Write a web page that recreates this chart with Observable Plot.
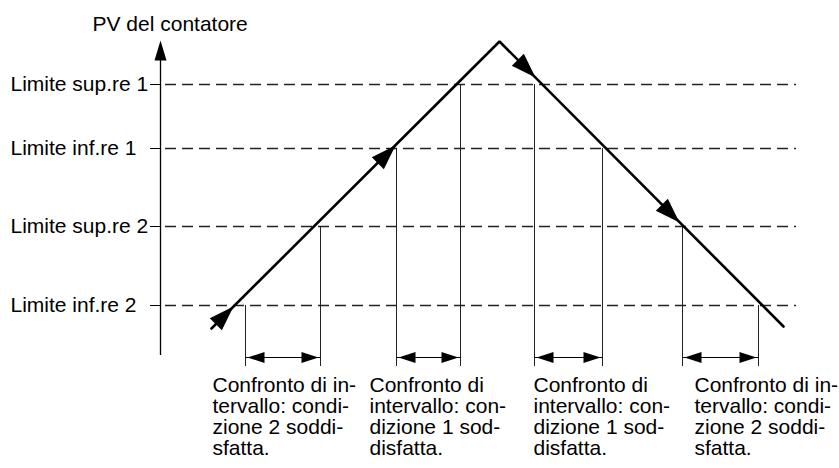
<!DOCTYPE html>
<html>
<head>
<meta charset="utf-8">
<script src="https://cdn.jsdelivr.net/npm/d3@7"></script>
<script src="https://cdn.jsdelivr.net/npm/@observablehq/plot@0.6"></script>
<style>
  html, body { margin: 0; padding: 0; background: white; }
  svg { display: block; }
</style>
</head>
<body>
<div id="chart"></div>
<script>
// ---- data (time units on x, counter PV units on y) ----
const axisTitle = "PV del contatore";
const limitLabels = ["Limite sup.re 1", "Limite inf.re 1", "Limite sup.re 2", "Limite inf.re 2"];
const limitValues = [271, 207, 129, 50];

// the PV ramp: up, peak, down
const pvTime = [51, 339, 623];
const pvValue = [27, 314, 29];

// moments where the PV crosses the limits
const crossTime = [85, 160, 236, 300, 374, 442, 522, 598];
const crossLimit = [50, 129, 207, 271, 271, 207, 129, 50];

// comparison intervals (start, end)
const intervalStart = [85, 236, 374, 522];
const intervalEnd = [160, 300, 442, 598];

// direction arrows on the ramp (tip position, heading)
const arrowTime = [73, 235, 375, 519];
const arrowPV = [49, 210, 278, 133];
const arrowHeading = [45, 45, 135, 135];

// captions under each interval
const captionTime = [52, 209, 373, 534];
const captions = [
  "Confronto di in-\ntervallo: condi-\nzione 2 soddi-\nsfatta.",
  "Confronto di\nintervallo: con-\ndizione 1 sod-\ndisfatta.",
  "Confronto di\nintervallo: con-\ndizione 1 sod-\ndisfatta.",
  "Confronto di in-\ntervallo: condi-\nzione 2 soddi-\nsfatta."
];

// ---- derived tables ----
const ramp = pvTime.map((t, i) => ({t, pv: pvValue[i]}));
const crossings = crossTime.map((t, i) => ({t, pv: crossLimit[i]}));
const intervals = intervalStart.map((s, i) => ({s, e: intervalEnd[i]}));
const arrows = arrowTime.map((t, i) => ({t, pv: arrowPV[i], a: arrowHeading[i]}));
const captionRows = captions.map((c, i) => ({t: captionTime[i], text: c}));
const limits = limitValues.map((v, i) => ({pv: v, label: limitLabels[i]}));

const FONT = "'Liberation Sans', Arial, Helvetica, sans-serif";
const FS = 21;

// filled triangular head; tip at (0,-l), base half-width r
const headShape = {
  draw(context, l, r) {
    context.moveTo(0, -l);
    context.lineTo(r, 0);
    context.lineTo(-r, 0);
    context.closePath();
  }
};

const chart = Plot.plot({
  width: 839,
  height: 468,
  marginLeft: 160,
  marginRight: 39,
  marginTop: 40,
  marginBottom: 113,
  x: {domain: [0, 640], axis: null},
  y: {domain: [0, 315], axis: null},
  style: {fontFamily: FONT, background: "white", color: "black", overflow: "visible"},
  marks: [
    // dashed limit lines
    Plot.ruleY(limits, {y: "pv", x1: 5, x2: 636, stroke: "#222", strokeWidth: 1.4, strokeDasharray: "11,6"}),
    // y axis: ticks, labels, line and arrowhead
    Plot.ruleY(limits, {y: "pv", x1: -10, x2: 0, stroke: "black", strokeWidth: 1}),
    Plot.text(limits, {x: -150, y: "pv", text: "label", textAnchor: "start", lineAnchor: "middle", fontSize: FS, fill: "black"}),
    Plot.ruleX([0], {y1: 0, y2: 300, stroke: "black", strokeWidth: 1.3}),
    Plot.vector([0], {x: 0, y: 315, rotate: 0, length: 20, r: 6, anchor: "end", shape: headShape, fill: "black", stroke: "none"}),
    Plot.text([axisTitle], {x: -68, y: 325, text: (d) => d, textAnchor: "start", lineAnchor: "bottom", fontSize: FS, fill: "black"}),
    // vertical crossing markers
    Plot.ruleX(crossings, {x: "t", y1: "pv", y2: -11, stroke: "#222", strokeWidth: 1}),
    // the PV ramp
    Plot.line(ramp, {x: "t", y: "pv", stroke: "black", strokeWidth: 2.6, strokeLinejoin: "miter"}),
    Plot.vector(arrows, {x: "t", y: "pv", rotate: "a", length: 25, r: 8.5, anchor: "end", shape: headShape, fill: "black", stroke: "none"}),
    // interval double arrows
    Plot.link(intervals, {x1: "s", x2: "e", y1: -2, y2: -2, stroke: "black", strokeWidth: 1}),
    Plot.vector(intervals, {x: "s", y: -2, rotate: -90, length: 17, r: 5.5, anchor: "end", dx: 2, shape: headShape, fill: "black", stroke: "none"}),
    Plot.vector(intervals, {x: "e", y: -2, rotate: 90, length: 17, r: 5.5, anchor: "end", dx: -2, shape: headShape, fill: "black", stroke: "none"}),
    // captions
    Plot.text(captionRows, {x: "t", y: -22, text: "text", textAnchor: "start", lineAnchor: "top", lineHeight: 1, fontSize: FS, fill: "black"})
  ]
});

document.getElementById("chart").appendChild(chart);
</script>
</body>
</html>
